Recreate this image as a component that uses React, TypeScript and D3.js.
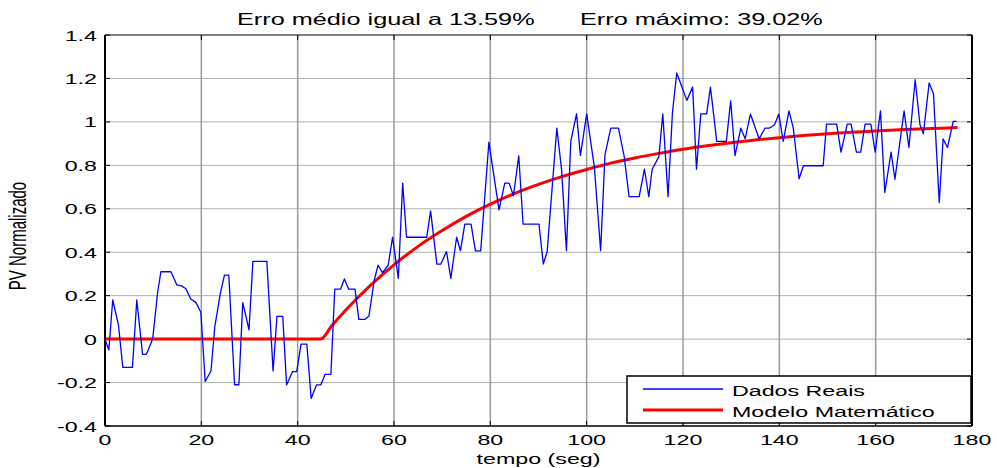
import React from "react";
import * as d3 from "d3";

// Blue series: "Dados Reais" (time in s, normalized PV)
const realTimes = [0, 0.8, 1.6, 2.8, 3.7, 5.7, 6.6, 7.8, 8.6, 9.9, 10.9, 11.6, 13.7, 14.9, 15.9, 16.8, 17.8, 18.9, 19.9, 20.8, 22.0, 22.8, 23.9, 24.8, 25.7, 26.9, 27.8, 28.6, 29.9, 30.7, 33.6, 34.9, 35.7, 36.9, 37.7, 38.9, 39.8, 40.7, 41.9, 42.8, 43.9, 44.8, 45.7, 46.9, 47.7, 48.9, 49.7, 50.6, 51.9, 52.7, 54.0, 54.8, 55.9, 56.7, 57.6, 58.8, 59.7, 60.9, 61.8, 62.6, 66.8, 67.6, 68.9, 69.7, 70.9, 71.8, 73.0, 73.8, 74.7, 76.0, 76.9, 78.0, 79.7, 81.8, 83.0, 83.9, 84.8, 85.9, 86.8, 90.1, 91.0, 91.8, 93.8, 94.8, 95.8, 96.7, 97.9, 98.7, 100.0, 101.6, 102.9, 103.8, 105.0, 106.6, 107.8, 108.8, 110.9, 112.0, 112.9, 113.6, 115.0, 115.8, 116.9, 117.8, 118.7, 120.8, 122.0, 122.8, 123.7, 124.9, 125.7, 127.0, 129.0, 129.9, 130.8, 132.0, 132.9, 134.0, 135.8, 137.0, 137.9, 139.0, 139.9, 140.8, 142.0, 142.9, 144.1, 145.0, 149.1, 149.8, 151.9, 152.8, 154.1, 154.9, 156.0, 156.9, 157.8, 159.0, 159.9, 161.0, 161.9, 163.2, 164.0, 165.9, 166.9, 168.2, 169.2, 169.9, 171.1, 172.0, 173.2, 174.0, 174.9, 176.1, 176.8];
const realValues = [0, -0.05, 0.18, 0.065, -0.13, -0.13, 0.18, -0.07, -0.07, 0.0, 0.21, 0.31, 0.31, 0.25, 0.245, 0.232, 0.185, 0.168, 0.124, -0.195, -0.147, 0.058, 0.205, 0.295, 0.295, -0.21, -0.21, 0.168, 0.043, 0.358, 0.358, -0.147, 0.105, 0.105, -0.211, -0.15, -0.15, -0.023, -0.023, -0.273, -0.211, -0.211, -0.162, -0.162, 0.23, 0.23, 0.277, 0.23, 0.23, 0.091, 0.091, 0.106, 0.272, 0.34, 0.306, 0.34, 0.469, 0.28, 0.718, 0.469, 0.469, 0.59, 0.345, 0.345, 0.403, 0.28, 0.469, 0.407, 0.529, 0.529, 0.406, 0.406, 0.907, 0.595, 0.718, 0.718, 0.66, 0.844, 0.529, 0.529, 0.346, 0.403, 0.971, 0.779, 0.407, 0.91, 1.037, 0.845, 1.037, 0.792, 0.407, 0.848, 0.971, 0.971, 0.84, 0.656, 0.656, 0.782, 0.656, 0.782, 0.84, 1.037, 0.656, 1.04, 1.225, 1.099, 1.16, 0.782, 1.037, 1.037, 1.16, 0.91, 0.91, 1.097, 0.845, 0.971, 0.922, 1.036, 0.922, 0.971, 0.971, 0.987, 1.036, 0.91, 1.051, 0.971, 0.738, 0.798, 0.798, 0.99, 0.99, 0.861, 0.99, 0.99, 0.861, 0.861, 0.99, 0.99, 0.861, 1.051, 0.675, 0.861, 0.736, 1.051, 0.882, 1.194, 0.987, 0.945, 1.179, 1.13, 0.629, 0.922, 0.882, 1.002, 1.002];

// Red series: "Modelo Matemático"
const modelTimes = [0, 44.8, 47, 50, 55, 60, 65, 70, 75, 80, 85, 90, 95, 100, 105, 110, 115, 120, 125, 130, 135, 140, 145, 150, 155, 160, 165, 170, 175, 177];
const modelValues = [0, 0, 0.059, 0.134, 0.245, 0.342, 0.427, 0.5, 0.565, 0.621, 0.67, 0.712, 0.749, 0.781, 0.81, 0.834, 0.855, 0.874, 0.89, 0.904, 0.917, 0.927, 0.937, 0.945, 0.952, 0.958, 0.964, 0.968, 0.972, 0.974];

const xTicks = [0, 20, 40, 60, 80, 100, 120, 140, 160, 180];
const yTicks = [-0.4, -0.2, 0, 0.2, 0.4, 0.6, 0.8, 1, 1.2, 1.4];

const titleLeft = "Erro médio igual a 13.59%";
const titleRight = "Erro máximo: 39.02%";
const xLabel = "tempo (seg)";
const yLabel = "PV Normalizado";
const legendLabels = ["Dados Reais", "Modelo Matemático"];

const W = 997;
const H = 468;
const L = 105, R = 972, T = 35, B = 426;
const SX = 1.55;
const FONT = "'Liberation Sans', Arial, sans-serif";

function SText({ x, y, anchor = "start", size = 15, children, rotate = 0 }: any) {
  return (
    <text
      transform={`translate(${x},${y}) scale(${SX},1)${rotate ? ` rotate(${rotate})` : ""}`}
      textAnchor={anchor}
      fontFamily={FONT}
      fontSize={size}
      fill="#000"
    >
      {children}
    </text>
  );
}

export default function App() {
  const x = d3.scaleLinear().domain([0, 180]).range([L, R]);
  const y = d3.scaleLinear().domain([-0.4, 1.4]).range([B, T]);

  const real = realTimes.map((t, i) => [t, realValues[i]] as [number, number]);
  const model = modelTimes.map((t, i) => [t, modelValues[i]] as [number, number]);
  const line = d3.line<[number, number]>().x((d) => x(d[0])).y((d) => y(d[1]));
  const modelLine = d3
    .line<[number, number]>()
    .x((d) => x(d[0]))
    .y((d) => y(d[1]))
    .curve(d3.curveMonotoneX);

  const tickLen = 5;
  const fmt = (v: number) => (Math.abs(v) < 1e-9 ? "0" : String(Math.round(v * 10) / 10));

  return (
    <svg width={W} height={H} style={{ position: "absolute", left: 0, top: 0, background: "#fff" }}>
      <rect x={0} y={0} width={W} height={H} fill="#fff" />
      {/* grid */}
      {yTicks.filter((v) => v > -0.4 && v < 1.4).map((v) => (
        <line key={"gy" + v} x1={L} x2={R} y1={y(v)} y2={y(v)} stroke="#b0b0b0" strokeWidth={1} />
      ))}
      {xTicks.filter((v) => v > 0 && v < 180).map((v) => (
        <line key={"gx" + v} x1={x(v)} x2={x(v)} y1={T} y2={B} stroke="#9a9a9a" strokeWidth={1.5} />
      ))}
      {/* ticks */}
      {xTicks.map((v) => (
        <g key={"tx" + v}>
          <line x1={x(v)} x2={x(v)} y1={B} y2={B - tickLen} stroke="#000" strokeWidth={1} />
          <line x1={x(v)} x2={x(v)} y1={T} y2={T + tickLen} stroke="#000" strokeWidth={1} />
        </g>
      ))}
      {yTicks.map((v) => (
        <g key={"ty" + v}>
          <line x1={L} x2={L + tickLen} y1={y(v)} y2={y(v)} stroke="#000" strokeWidth={1} />
          <line x1={R} x2={R - tickLen} y1={y(v)} y2={y(v)} stroke="#000" strokeWidth={1} />
        </g>
      ))}
      {/* data */}
      <path d={modelLine(model) || ""} fill="none" stroke="#ff0000" strokeWidth={3} strokeLinejoin="round" />
      <path d={line(real) || ""} fill="none" stroke="#0000ff" strokeWidth={1.3} strokeLinejoin="round" />
      {/* frame */}
      <line x1={L} x2={R} y1={T} y2={T} stroke="#000" strokeWidth={1} />
      <line x1={L} x2={R} y1={B} y2={B} stroke="#000" strokeWidth={1.5} />
      <line x1={L} x2={L} y1={T} y2={B} stroke="#000" strokeWidth={2} />
      <line x1={R} x2={R} y1={T} y2={B} stroke="#000" strokeWidth={2} />
      {/* tick labels */}
      {xTicks.map((v) => (
        <SText key={"lx" + v} x={x(v)} y={445} anchor="middle">{fmt(v)}</SText>
      ))}
      {yTicks.map((v) => (
        <SText key={"ly" + v} x={97} y={y(v) + 5.5} anchor="end">{fmt(v)}</SText>
      ))}
      {/* labels */}
      <SText x={(L + R) / 2} y={464} anchor="middle">{xLabel}</SText>
      <SText x={26} y={236} anchor="middle" rotate={-90}>{yLabel}</SText>
      <SText x={237} y={25} size={16.3}>{titleLeft}</SText>
      <SText x={580} y={25} size={16.3}>{titleRight}</SText>
      {/* legend */}
      <rect x={627} y={376} width={344} height={47} fill="#fff" stroke="#000" strokeWidth={1.5} />
      <line x1={643} x2={723} y1={389} y2={389} stroke="#0000ff" strokeWidth={1.3} />
      <line x1={643} x2={723} y1={410} y2={410} stroke="#ff0000" strokeWidth={3} />
      <SText x={732} y={396}>{legendLabels[0]}</SText>
      <SText x={732} y={417}>{legendLabels[1]}</SText>
    </svg>
  );
}
